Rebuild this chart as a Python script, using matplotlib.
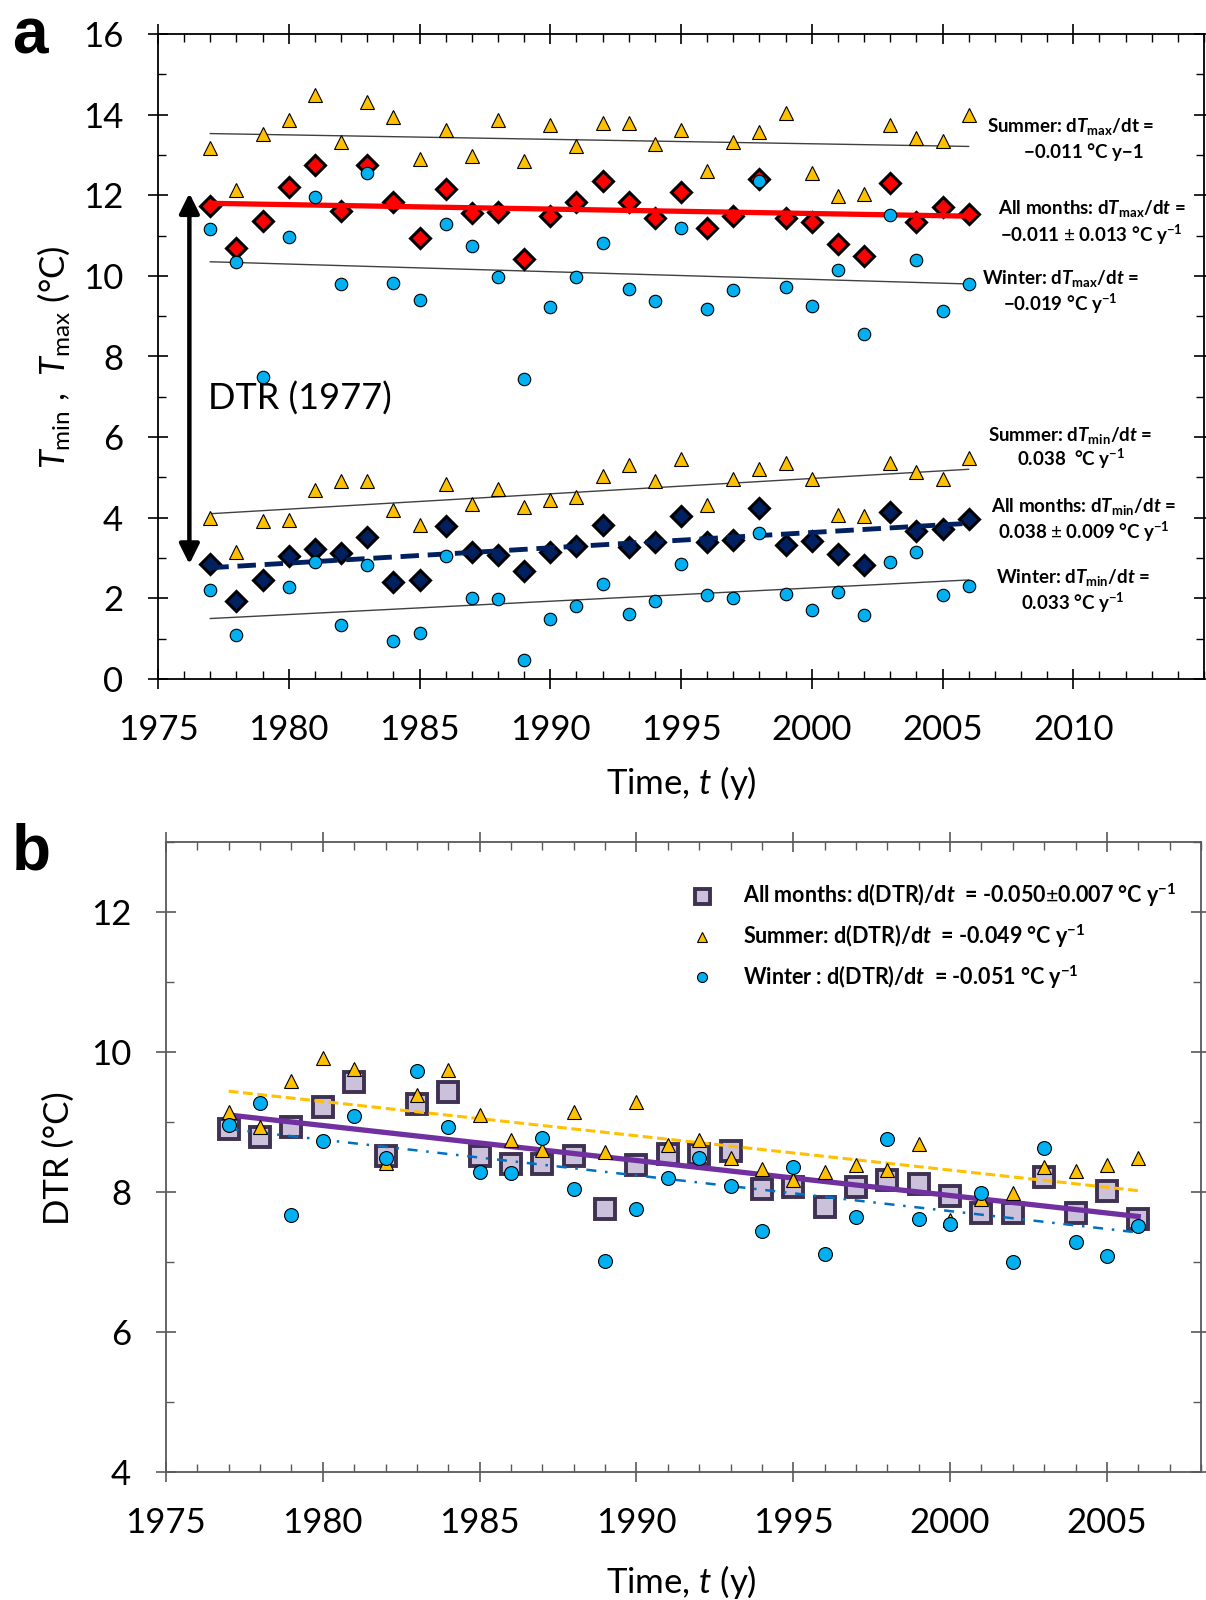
import numpy as np
import matplotlib
matplotlib.use("Agg")
import matplotlib.pyplot as plt
from matplotlib.ticker import MultipleLocator

# ── Data ───────────────────────────────────────────────────────────────────
years = list(range(1977, 2007))

tmax_all = [11.73, 10.69, 11.36, 12.21, 12.76, 11.61, 12.76, 11.84, 10.95, 12.15,
            11.55, 11.59, 10.41, 11.49, 11.84, 12.35, 11.84, 11.43, 12.09, 11.18,
            11.49, 12.40, 11.43, 11.34, 10.79, 10.50, 12.31, 11.34, 11.72, 11.53]
tmax_summer = [13.16, 12.13, 13.51, 13.86, 14.48, 13.32, 14.31, 13.93, 12.90, 13.61,
               12.97, 13.86, 12.85, 13.74, 13.23, 13.80, 13.78, 13.26, 13.63, 12.60,
               13.32, 13.57, 14.04, 12.56, 11.98, 12.02, 13.74, 13.43, 13.35, 14.00]
tmax_winter = [11.16, 10.35, 7.48, 10.97, 11.95, 9.80, 12.56, 9.82, 9.41, 11.29,
               10.75, 9.98, 7.45, 9.22, 9.96, 10.81, 9.67, 9.38, 11.20, 9.19,
               9.64, 12.35, 9.72, 9.26, 10.15, 8.56, 11.51, 10.40, 9.14, 9.80]

tmin_all = [2.85, 1.94, 2.45, 3.05, 3.22, 3.12, 3.53, 2.41, 2.45, 3.80,
            3.14, 3.08, 2.67, 3.15, 3.30, 3.82, 3.28, 3.40, 4.04, 3.40,
            3.45, 4.25, 3.32, 3.42, 3.09, 2.83, 4.14, 3.67, 3.71, 3.96]
tmin_summer = [4.00, 3.15, 3.92, 3.94, 4.69, 4.91, 4.91, 4.18, 3.82, 4.84,
               4.33, 4.72, 4.27, 4.44, 4.52, 5.03, 5.30, 4.91, 5.45, 4.31,
               4.95, 5.22, 5.36, 4.97, 4.08, 4.04, 5.36, 5.13, 4.97, 5.49]
tmin_winter = [2.21, 1.10, np.nan, 2.27, 2.90, 1.35, 2.83, 0.94, 1.13, 3.04,
               2.00, 1.98, 0.47, 1.49, 1.80, 2.35, 1.61, 1.94, 2.86, 2.09,
               2.02, 3.61, 2.12, 1.71, 2.17, 1.58, 2.90, 3.14, 2.09, 2.31]

dtr_all = [8.90, 8.79, 8.93, 9.21, 9.57, 8.52, 9.26, 9.43, 8.51, 8.40,
           8.40, 8.52, 7.76, 8.38, 8.54, 8.55, 8.59, 8.05, 8.07, 7.79,
           8.07, 8.17, 8.11, 7.95, 7.70, 7.70, 8.21, 7.70, 8.01, 7.61]
dtr_summer = [9.14, 8.93, 9.58, 9.91, 9.76, 8.42, 9.38, 9.74, 9.10, 8.74,
              8.60, 9.14, 8.57, 9.29, 8.67, 8.75, 8.48, 8.33, 8.17, 8.29,
              8.39, 8.32, 8.69, 7.60, 7.90, 7.99, 8.36, 8.30, 8.39, 8.49]
dtr_winter = [8.96, 9.27, 7.67, 8.73, 9.09, 8.48, 9.73, 8.93, 8.29, 8.27,
              8.77, 8.05, 7.01, 7.76, 8.20, 8.49, 8.09, 7.44, 8.36, 7.11,
              7.64, 8.76, 7.61, 7.55, 7.98, 7.00, 8.63, 7.28, 7.08, 7.51]

# trend lines: value at 1977 and slope (°C per year), order summer / all / winter
fit_years = [1977, 2006]
tmax_fit_start = [13.53, 11.80, 10.35]
tmax_fit_slope = [-0.011, -0.011, -0.019]
tmin_fit_start = [4.10, 2.76, 1.50]
tmin_fit_slope = [0.038, 0.038, 0.033]
dtr_fit_start = [9.44, 9.10, 8.90]
dtr_fit_slope = [-0.049, -0.050, -0.051]

# ── Style ──────────────────────────────────────────────────────────────────
plt.rcParams["font.family"] = ["Lato", "DejaVu Sans"]
plt.rcParams["mathtext.fontset"] = "custom"
plt.rcParams["mathtext.rm"] = "Lato"
plt.rcParams["mathtext.it"] = "Lato:italic"
plt.rcParams["mathtext.bf"] = "Lato:bold"
plt.rcParams["mathtext.bfit"] = "Lato:italic:bold"

ORANGE = "#ffc000"
CYAN = "#00b0f0"
RED = "#ff0000"
NAVY = "#002060"
PURPLE = "#7030a0"
LAVENDER = "#ccc1da"
PLUM = "#3f3151"
BLUE = "#0070c0"
GREY = "#404040"

TICK_FS = 25
NOTE_FS = 13.5


def fit_line(start, slope):
    x = np.array(fit_years, dtype=float)
    return x, start + slope * (x - fit_years[0])


def style_axes(ax, spine_color):
    for s in ax.spines.values():
        s.set_color(spine_color)
        s.set_linewidth(1.3)
    ax.tick_params(which="major", direction="inout", length=14, width=1.2,
                   pad=18, labelsize=TICK_FS, color=spine_color,
                   top=True, right=True)
    ax.tick_params(which="minor", direction="in", length=6, width=1.0,
                   color=spine_color, top=True, right=True)


fig = plt.figure(figsize=(12.06, 16), dpi=100)

# ── Panel a ────────────────────────────────────────────────────────────────
ax = fig.add_axes([158 / 1206, 1 - 679 / 1600, 1046 / 1206, 645 / 1600])

for start, slope in zip([tmax_fit_start[0], tmax_fit_start[2], tmin_fit_start[0], tmin_fit_start[2]],
                        [tmax_fit_slope[0], tmax_fit_slope[2], tmin_fit_slope[0], tmin_fit_slope[2]]):
    ax.plot(*fit_line(start, slope), color=GREY, lw=1.0, zorder=1)

ax.plot(years, tmax_all, "D", ms=10.5, mfc=RED, mec="k", mew=2.2, ls="none", zorder=2)
ax.plot(years, tmin_all, "D", ms=10.5, mfc=NAVY, mec="k", mew=2.2, ls="none", zorder=2)
ax.plot(*fit_line(tmax_fit_start[1], tmax_fit_slope[1]), color=RED, lw=3.8, zorder=3)
ax.plot(*fit_line(tmin_fit_start[1], tmin_fit_slope[1]), color=NAVY, lw=3.5,
        ls=(0, (3.8, 1.8)), zorder=3)

for vals in (tmax_summer, tmin_summer):
    ax.plot(years, vals, "^", ms=10, mfc=ORANGE, mec="k", mew=0.8, ls="none", zorder=4)
for vals in (tmax_winter, tmin_winter):
    ax.plot(years, vals, "o", ms=9, mfc=CYAN, mec="k", mew=0.8, ls="none", zorder=4)

ax.annotate("", xy=(1976.2, 2.85), xytext=(1976.2, 12.05),
            arrowprops=dict(arrowstyle="<|-|>", lw=3.2, color="k",
                            mutation_scale=30, shrinkA=0, shrinkB=0), zorder=5)
ax.text(1976.9, 6.68, "DTR (1977)", fontsize=26, va="baseline", ha="left", zorder=6)

notes_a = [
    (2009.9, 13.70, r"Summer: d$\mathbfit{T}_{\mathbf{max}}$/dt ="),
    (2010.4, 13.07, "\u22120.011 \u00b0C y\u22121"),
    (2010.7, 11.66, r"All months: d$\mathbfit{T}_{\mathbf{max}}$/d$\mathbfit{t}$ ="),
    (2010.7, 11.01, r"$\mathbf{-}$0.011 $\pm$ 0.013 $\mathbf{°}$C y$^{\mathbf{-1}}$"),
    (2009.5, 9.93, r"Winter: d$\mathbfit{T}_{\mathbf{max}}$/d$\mathbfit{t}$ ="),
    (2009.5, 9.31, r"$\mathbf{-}$0.019 $\mathbf{°}$C y$^{\mathbf{-1}}$"),
    (2009.9, 6.04, r"Summer: d$\mathbfit{T}_{\mathbf{min}}$/d$\mathbfit{t}$ ="),
    (2009.9, 5.45, r"0.038  $\mathbf{°}$C y$^{\mathbf{-1}}$"),
    (2010.4, 4.28, r"All months: d$\mathbfit{T}_{\mathbf{min}}$/d$\mathbfit{t}$ ="),
    (2010.4, 3.64, r"0.038 $\pm$ 0.009 $\mathbf{°}$C y$^{\mathbf{-1}}$"),
    (2010.0, 2.51, r"Winter: d$\mathbfit{T}_{\mathbf{min}}$/d$\mathbfit{t}$ ="),
    (2010.0, 1.88, r"0.033 $\mathbf{°}$C y$^{\mathbf{-1}}$"),
]
for x, y, s in notes_a:
    ax.text(x, y, s, fontsize=NOTE_FS, fontweight="bold", ha="center", va="center", zorder=6)

ax.set_xlim(1975, 2015)
ax.set_ylim(0, 16)
ax.set_xticks(range(1975, 2011, 5))
ax.xaxis.set_minor_locator(MultipleLocator(1))
ax.set_yticks(range(0, 17, 2))
ax.yaxis.set_minor_locator(MultipleLocator(1))
style_axes(ax, "k")
ax.set_xlabel(r"Time, $t$ (y)", fontsize=TICK_FS, va="center")
ax.xaxis.set_label_coords(0.5005, -0.162)
ax.set_ylabel(r"$T_{\rm min}$ ,  $T_{\rm max}$ (°C)", fontsize=TICK_FS, va="center")
ax.yaxis.set_label_coords(-0.100, 0.499)

# ── Panel b ────────────────────────────────────────────────────────────────
bx = fig.add_axes([166 / 1206, 1 - 1472 / 1600, 1035 / 1206, 630 / 1600])

hs, = bx.plot(years, dtr_all, "s", ms=15, mfc=LAVENDER, mec=PLUM, mew=2.8, ls="none", zorder=2)
bx.plot(*fit_line(dtr_fit_start[1], dtr_fit_slope[1]), color=PURPLE, lw=3.8, zorder=3)
bx.plot(*fit_line(dtr_fit_start[0], dtr_fit_slope[0]), color=ORANGE, lw=2.2,
        ls=(0, (3.2, 1.5)), zorder=3)
bx.plot(*fit_line(dtr_fit_start[2], dtr_fit_slope[2]), color=BLUE, lw=1.8,
        ls=(0, (4, 3.5, 1, 3.5)), zorder=3)
ht, = bx.plot(years, dtr_summer, "^", ms=10, mfc=ORANGE, mec="k", mew=0.8, ls="none", zorder=4)
hc, = bx.plot(years, dtr_winter, "o", ms=10, mfc=CYAN, mec="k", mew=0.8, ls="none", zorder=5)

legend_labels = [
    r"All months: d(DTR)/d$\mathbfit{t}$  = -0.050$\pm$0.007 $\mathbf{°}$C y$^{\mathbf{-1}}$",
    r"Summer: d(DTR)/d$\mathbfit{t}$  = -0.049 $\mathbf{°}$C y$^{\mathbf{-1}}$",
    r"Winter : d(DTR)/d$\mathbfit{t}$  = -0.051 $\mathbf{°}$C y$^{\mathbf{-1}}$",
]
leg = bx.legend([hs, ht, hc], legend_labels, loc="upper left",
                bbox_to_anchor=(0.478, 0.968), frameon=False,
                prop={"weight": "bold", "size": 15.5}, handletextpad=0.9,
                labelspacing=0.62, markerscale=0.72)

bx.set_xlim(1975, 2008)
bx.set_ylim(4, 13)
bx.set_xticks(range(1975, 2006, 5))
bx.xaxis.set_minor_locator(MultipleLocator(1))
bx.set_yticks(range(4, 13, 2))
bx.yaxis.set_minor_locator(MultipleLocator(1))
style_axes(bx, "#595959")
bx.tick_params(labelcolor="k")
bx.set_xlabel(r"Time, $t$ (y)", fontsize=TICK_FS, va="center")
bx.xaxis.set_label_coords(0.4976, -0.174)
bx.set_ylabel("DTR (°C)", fontsize=TICK_FS, va="center")
bx.yaxis.set_label_coords(-0.104, 0.498)

fig.text(12 / 1206, 1 - 53 / 1600, "a", fontsize=46, fontweight="bold",
         family=["Liberation Sans", "DejaVu Sans"], va="baseline", ha="left")
fig.text(12 / 1206, 1 - 870 / 1600, "b", fontsize=46, fontweight="bold",
         family=["Liberation Sans", "DejaVu Sans"], va="baseline", ha="left")

fig.savefig("out.png", dpi=100)
